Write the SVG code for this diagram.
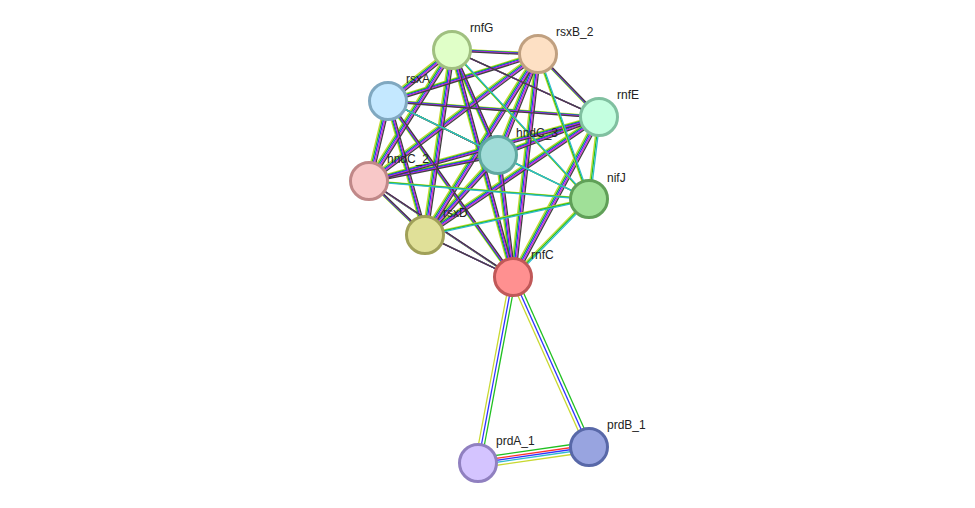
<svg xmlns="http://www.w3.org/2000/svg" xmlns:xlink="http://www.w3.org/1999/xlink" width="975" height="508" viewBox="0 0 975 508">
<style>
.e{fill:none;stroke-width:1.3}
.n{stroke-width:3}
.t{font-family:"Liberation Sans",Arial,sans-serif;font-size:12px;fill:#222}
</style>
<defs>
<path id="cl" d="M452,50L538,54M452,50L388,101M452,50L599,117M452,50L498,155M452,50L369,181M452,50L425,235M452,50L513,277M538,54L388,101M538,54L599,117M538,54L498,155M538,54L369,181M538,54L425,235M538,54L513,277M388,101L599,117M388,101L498,155M388,101L369,181M388,101L425,235M388,101L513,277M599,117L498,155M599,117L369,181M599,117L425,235M599,117L513,277M498,155L369,181M498,155L425,235M498,155L513,277M369,181L425,235M369,181L513,277M425,235L513,277"/>
<path id="nj" d="M589,199L452,50M589,199L538,54M589,199L388,101M589,199L599,117M589,199L498,155M589,199L369,181M589,199L425,235M589,199L513,277"/>
</defs>
<rect width="975" height="508" fill="#fff"/>
<g id="connectors">
<use xlink:href="#cl" class="e" stroke="#c8d830" transform="translate(-2.4,-1.2)"/>
<use xlink:href="#cl" class="e" stroke="#20c020" transform="translate(-1.2,-0.6)"/>
<use xlink:href="#cl" class="e" stroke="#3030ff" transform="translate(0,0)"/>
<use xlink:href="#cl" class="e" stroke="#d030d0" transform="translate(1.2,0.6)"/>
<use xlink:href="#cl" class="e" stroke="#404040" transform="translate(2.4,1.2)"/>
<use xlink:href="#nj" class="e" stroke="#c8d830" transform="translate(-1.2,-0.6)"/>
<use xlink:href="#nj" class="e" stroke="#20c020" transform="translate(0,0)"/>
<use xlink:href="#nj" class="e" stroke="#30b8d0" transform="translate(1.2,0.6)"/>
<g class="e">
<path d="M510,277L475,463" stroke="#c8d830"/><path d="M513,277L478,463" stroke="#3030ff"/><path d="M516,277L481,463" stroke="#20c020"/>
<path d="M510,278L586,448" stroke="#c8d830"/><path d="M513,277L589,447" stroke="#3030ff"/><path d="M516,276L592,446" stroke="#20c020"/>
<path d="M478,458L589,442" stroke="#20c020"/><path d="M478,461L589,445" stroke="#ff3030"/><path d="M478,463L589,447" stroke="#3030ff"/><path d="M478,465L589,449" stroke="#30b8d0"/><path d="M478,468L589,452" stroke="#c8d830"/>
</g>
</g>
<g id="rnfG"><circle class="n" cx="452" cy="50" r="18.5" fill="#e0ffc8" stroke="#a0c080"/><text class="t" x="470" y="32">rnfG</text></g>
<g id="rsxB_2"><circle class="n" cx="538" cy="54" r="18.5" fill="#fde0c4" stroke="#c0a080"/><text class="t" x="556" y="36">rsxB_2</text></g>
<g id="rsxA"><circle class="n" cx="388" cy="101" r="18.5" fill="#c4e8ff" stroke="#80a8c0"/><text class="t" x="406" y="83">rsxA</text></g>
<g id="rnfE"><circle class="n" cx="599" cy="117" r="18.5" fill="#c4ffe0" stroke="#80c0a0"/><text class="t" x="617" y="99">rnfE</text></g>
<g id="hndC_3"><circle class="n" cx="498" cy="155" r="18.5" fill="#a0dcd8" stroke="#60a8a0"/><text class="t" x="516" y="137">hndC_3</text></g>
<g id="hndC_2"><circle class="n" cx="369" cy="181" r="18.5" fill="#f8c8c8" stroke="#c08888"/><text class="t" x="387" y="163">hndC_2</text></g>
<g id="nifJ"><circle class="n" cx="589" cy="199" r="18.5" fill="#a0e098" stroke="#60a058"/><text class="t" x="607" y="182">nifJ</text></g>
<g id="rsxD"><circle class="n" cx="425" cy="235" r="18.5" fill="#e0e098" stroke="#a0a058"/><text class="t" x="443" y="217">rsxD</text></g>
<g id="rnfC"><circle class="n" cx="513" cy="277" r="18.5" fill="#ff9090" stroke="#c05858"/><text class="t" x="531" y="259">rnfC</text></g>
<g id="prdA_1"><circle class="n" cx="478" cy="463" r="18.5" fill="#d4c4ff" stroke="#9080c0"/><text class="t" x="496" y="445">prdA_1</text></g>
<g id="prdB_1"><circle class="n" cx="589" cy="447" r="18.5" fill="#98a4e0" stroke="#5868a8"/><text class="t" x="607" y="429">prdB_1</text></g>
</svg>
